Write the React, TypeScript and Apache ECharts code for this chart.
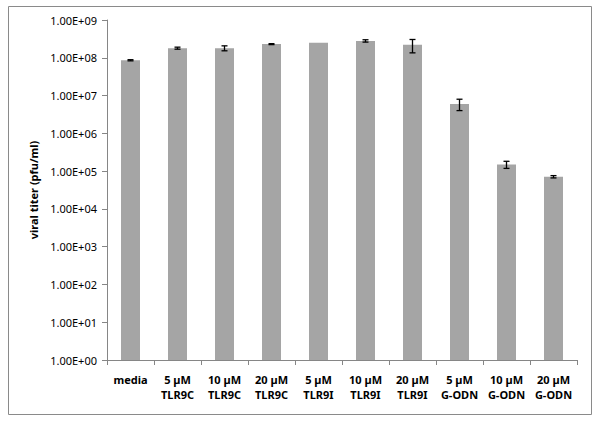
import React, { useEffect, useRef } from "react";
import * as echarts from "echarts";

const categories = [
  "media",
  "5 µM\nTLR9C",
  "10 µM\nTLR9C",
  "20 µM\nTLR9C",
  "5 µM\nTLR9I",
  "10 µM\nTLR9I",
  "20 µM\nTLR9I",
  "5 µM\nG-ODN",
  "10 µM\nG-ODN",
  "20 µM\nG-ODN",
];
const titers = [8.6e7, 1.8e8, 1.8e8, 2.3e8, 2.5e8, 2.8e8, 2.2e8, 6.0e6, 1.5e5, 7.1e4];
const errors = [3e6, 1.1e7, 2.7e7, 7e6, 0, 2e7, 8.5e7, 2.0e6, 3.2e4, 5e3];
const yAxisTitle = "viral titer (pfu/ml)";

const FONT = "'Noto Sans', sans-serif";

function fmtExp(v: number): string {
  const e = Math.round(Math.log10(v));
  const m = v / Math.pow(10, e);
  const es = (e < 10 ? "0" : "") + e;
  return m.toFixed(2) + "E+" + es;
}

export default function App() {
  const ref = useRef<HTMLDivElement>(null);
  useEffect(() => {
    if (!ref.current) return;
    const chart = echarts.init(ref.current, null, { renderer: "svg" });
    const errData = titers.map((v, i) => [i, v - errors[i], v + errors[i]]);
    chart.setOption({
      animation: false,
      backgroundColor: "#ffffff",
      grid: { left: 107, right: 23, top: 20, bottom: 62 },
      graphic: [
        {
          type: "rect",
          shape: { x: 8.5, y: 6.5, width: 583, height: 408 },
          style: { fill: "none", stroke: "#8a8a8a", lineWidth: 1 },
          z: -1,
        },
      ],
      xAxis: {
        type: "category",
        data: categories,
        axisLine: { lineStyle: { color: "#868686", width: 1 } },
        axisTick: { show: true, length: 5, lineStyle: { color: "#868686" } },
        axisLabel: {
          interval: 0,
          color: "#000",
          fontFamily: FONT,
          fontWeight: "bold",
          fontSize: 11,
          lineHeight: 15,
          margin: 12,
        },
      },
      yAxis: {
        type: "log",
        logBase: 10,
        min: 1,
        max: 1e9,
        name: yAxisTitle,
        nameLocation: "middle",
        nameGap: 68,
        nameTextStyle: {
          color: "#000",
          fontFamily: FONT,
          fontWeight: "bold",
          fontSize: 11,
        },
        axisLine: { show: true, lineStyle: { color: "#868686", width: 1 } },
        axisTick: { show: true, length: 5, lineStyle: { color: "#868686" } },
        splitLine: { show: false },
        axisLabel: {
          color: "#000",
          fontFamily: FONT,
          fontSize: 11,
          margin: 10,
          formatter: (v: number) => fmtExp(v),
        },
      },
      series: [
        {
          type: "bar",
          data: titers,
          barWidth: 19,
          itemStyle: { color: "#a5a5a5" },
        },
        {
          type: "custom",
          data: errData,
          z: 10,
          renderItem: (params: any, api: any) => {
            const x = api.value(0);
            const lo = api.value(1);
            const hi = api.value(2);
            if (hi - lo <= 0) return null;
            const pHi = api.coord([x, hi]);
            const pLo = api.coord([x, lo]);
            const w = 3;
            const style = { stroke: "#000", lineWidth: 1.3 };
            return {
              type: "group",
              children: [
                { type: "line", shape: { x1: pHi[0], y1: pHi[1], x2: pLo[0], y2: pLo[1] }, style },
                { type: "line", shape: { x1: pHi[0] - w, y1: pHi[1], x2: pHi[0] + w, y2: pHi[1] }, style },
                { type: "line", shape: { x1: pLo[0] - w, y1: pLo[1], x2: pLo[0] + w, y2: pLo[1] }, style },
              ],
            };
          },
        },
      ],
    });
    return () => chart.dispose();
  }, []);
  return (
    <div
      ref={ref}
      style={{ position: "fixed", left: 0, top: 0, width: 600, height: 422 }}
    />
  );
}
